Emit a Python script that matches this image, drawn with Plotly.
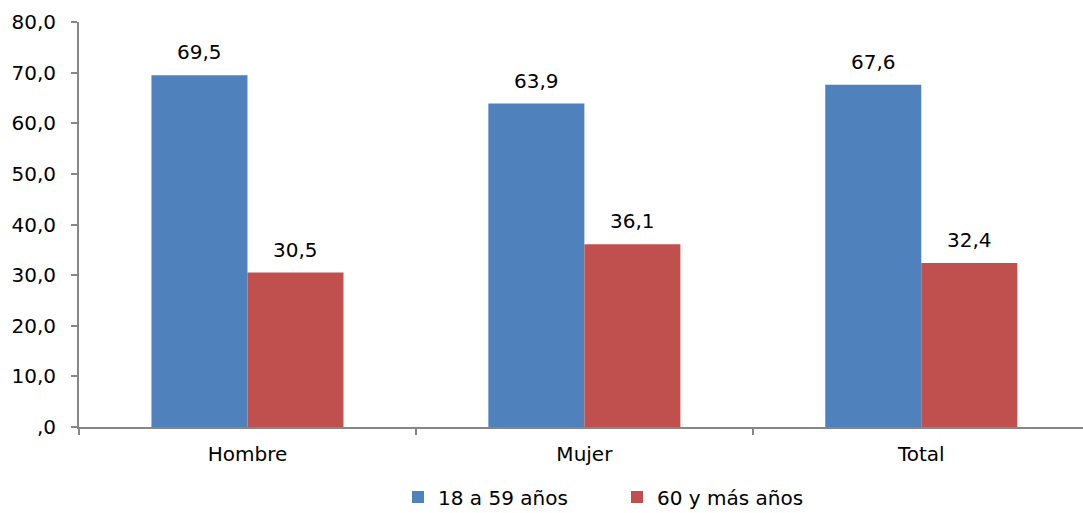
import plotly.graph_objects as go

categories = ["Hombre", "Mujer", "Total"]
serie_18_59 = [69.5, 63.9, 67.6]
serie_60_mas = [30.5, 36.1, 32.4]
series_names = ["18 a 59 años", "60 y más años"]
y_tickvals = [0, 10, 20, 30, 40, 50, 60, 70, 80]
y_ticktext = [",0", "10,0", "20,0", "30,0", "40,0", "50,0", "60,0", "70,0", "80,0"]

def fmt(v):
    return f"{v:.1f}".replace(".", ",")

FONT = "Verdana, DejaVu Sans, sans-serif"
FS = 20

fig = go.Figure()
fig.add_trace(go.Bar(
    x=categories, y=serie_18_59, name=series_names[0],
    marker=dict(color="#4F81BD", line=dict(width=0)),
))
fig.add_trace(go.Bar(
    x=categories, y=serie_60_mas, name=series_names[1],
    marker=dict(color="#C0504D", line=dict(width=0)),
))

# data labels above the bars
for values, shift in ((serie_18_59, -48), (serie_60_mas, 48)):
    for c, v in zip(categories, values):
        fig.add_annotation(
            x=c, y=v, text=fmt(v), showarrow=False,
            xref="x", yref="y", xanchor="center", yanchor="bottom",
            xshift=shift, yshift=9,
            font=dict(size=FS, color="black", family=FONT),
        )

fig.update_layout(
    width=1083, height=513,
    margin=dict(l=79, r=0, t=22, b=86, autoexpand=False),
    paper_bgcolor="white", plot_bgcolor="white",
    font=dict(family=FONT, size=FS, color="black"),
    barmode="group", bargap=0.43, bargroupgap=0,
    showlegend=True,
    legend=dict(orientation="h", x=(398 - 79) / 1004, xanchor="left",
                y=-0.173, yanchor="middle",
                font=dict(size=FS), traceorder="normal",
                itemwidth=30, entrywidth=174),
)
fig.update_xaxes(
    range=[-0.5, 2.48],
    showline=True, linecolor="#868686", linewidth=2,
    ticks="outside", tickson="boundaries", ticklen=6, tickcolor="#868686", tickwidth=2,
    showgrid=False, tickfont=dict(size=FS), ticklabelstandoff=8,
)
fig.update_yaxes(
    range=[0, 80], tickvals=y_tickvals, ticktext=y_ticktext,
    showline=True, linecolor="#868686", linewidth=2,
    ticks="outside", ticklen=6, tickcolor="#868686", tickwidth=2,
    showgrid=False, zeroline=False, tickfont=dict(size=FS), ticklabelstandoff=11,
)

fig.write_html("out.html", config={"displayModeBar": False},
               post_script="document.body.style.margin='0';document.body.style.padding='0';")
